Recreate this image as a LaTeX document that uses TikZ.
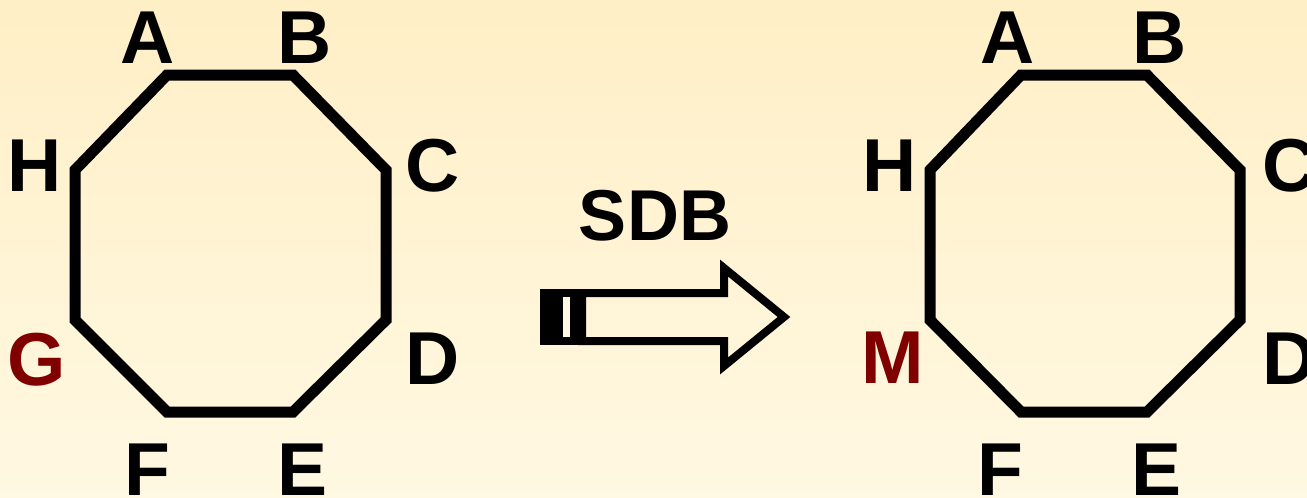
\documentclass[tikz,border=0pt]{standalone}
\usepackage{fontspec}
\setmainfont{Liberation Sans}
\definecolor{bgtop}{RGB}{255,239,198}
\definecolor{bgbot}{RGB}{255,248,226}
\definecolor{darkred}{RGB}{128,0,0}
\begin{document}
\begin{tikzpicture}[x=1pt,y=-1pt,
  lbl/.style={anchor=base,inner sep=0pt,font=\fontsize{75}{75}\selectfont\bfseries},
  octo/.style={line width=11pt,line join=miter,draw=black},
  arr/.style={line width=8pt,line join=miter,draw=black}]
\shade[top color=bgtop,bottom color=bgbot] (0,0) rectangle (1307,498);
\useasboundingbox (0,0) rectangle (1307,498);
% left octagon
\draw[octo] (167,75) coordinate (lA) -- (293,75) coordinate (lB) -- (386,170) coordinate (lC) -- (386,320) coordinate (lD) -- (293,412) coordinate (lE) -- (167,412) coordinate (lF) -- (75,320) coordinate (lG) -- (75,170) coordinate (lH) -- cycle;
\node[lbl] (tA) at (148,63) {A};
\node[lbl] (tB) at (305,63) {B};
\node[lbl] (tC) at (433,191) {C};
\node[lbl] (tD) at (433,384) {D};
\node[lbl] (tE) at (303,495) {E};
\node[lbl] (tF) at (147,495) {F};
\node[lbl,text=darkred] (tG) at (37,385) {G};
\node[lbl] (tH) at (35,191) {H};
% right octagon
\draw[octo] (1021,75) coordinate (rA) -- (1147,75) coordinate (rB) -- (1240,170) coordinate (rC) -- (1240,320) coordinate (rD) -- (1147,412) coordinate (rE) -- (1021,412) coordinate (rF) -- (930,320) coordinate (rG) -- (930,170) coordinate (rH) -- cycle;
\node[lbl] (uA) at (1008,63) {A};
\node[lbl] (uB) at (1160,63) {B};
\node[lbl,anchor=base west] (uC) at (1262,191) {C};
\node[lbl,anchor=base west] (uD) at (1262,384) {D};
\node[lbl] (uE) at (1157,495) {E};
\node[lbl] (uF) at (1000,495) {F};
\node[lbl,text=darkred] (uM) at (893,383) {M};
\node[lbl] (uH) at (890,191) {H};
% arrow
\node[anchor=base,inner sep=0pt,font=\fontsize{72}{72}\selectfont\bfseries] (sdb) at (655,240) {SDB};
\fill[black] (540,289) rectangle (578,345);
\fill[bgbot] (563,297) rectangle (570,337);
\draw[arr] (582,293) -- (724,293) -- (724,268) -- (784,317) -- (724,366) -- (724,341) -- (582,341) -- cycle;
\end{tikzpicture}
\end{document}
